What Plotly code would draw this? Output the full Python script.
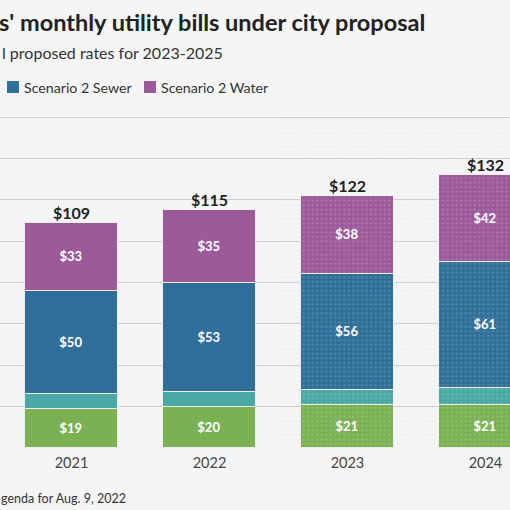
import plotly.graph_objects as go

years = ["2021", "2022", "2023", "2024"]
garbage = [19, 20, 21, 21]
storm = [7, 7, 7, 8]
sewer = [50, 53, 56, 61]
water = [33, 35, 38, 42]
totals = [g + s + w + v for g, s, w, v in zip(garbage, storm, sewer, water)]
proposed = ["2023", "2024"]

FONT = "Lato"
W, H = 510, 510
MT, MB = 113, 62
PLOT_H = H - MT - MB
YMAX = 162
XR = [-0.518, 3.178]


def px_x(p):
    return p / W


def px_y(p):
    return (H - MB - p) / PLOT_H


dots = ["" if y not in proposed else "." for y in years]

fig = go.Figure()

# dotted background behind the proposed years
fig.add_trace(go.Bar(
    x=proposed, y=[YMAX] * len(proposed), width=1,
    marker=dict(color="rgba(0,0,0,0)", line=dict(width=0),
                pattern=dict(shape=".", fgcolor="#ede3e8", size=4.5, solidity=0.2)),
    hoverinfo="skip", showlegend=False, xaxis="x", yaxis="y",
))

series = [
    ("Scenario 2 Garbage", garbage, "#7ab153", True),
    ("Scenario 2 Stormwater", storm, "#4aa9a5", False),
    ("Scenario 2 Sewer", sewer, "#2f6f99", True),
    ("Scenario 2 Water", water, "#9c5a9b", True),
]
for name, vals, col, lab in series:
    fig.add_trace(go.Bar(
        x=years, y=vals, name=name, width=0.674,
        marker=dict(color=col, line=dict(color="#eeeeee", width=1.3),
                    pattern=dict(shape=dots, fgcolor="rgba(255,255,255,0.35)",
                                 size=4.5, solidity=0.2)),
        texttemplate="$%{y}" if lab else "",
        textposition="inside", insidetextanchor="middle",
        textfont=dict(family=FONT, size=13, color="white", weight=700),
        showlegend=False, xaxis="x2", yaxis="y2",
    ))

fig.add_trace(go.Scatter(
    x=years, y=totals, mode="text", text=["$%d" % t for t in totals],
    textposition="top center", cliponaxis=False,
    textfont=dict(family=FONT, size=16, color="#222222", weight=700),
    showlegend=False, hoverinfo="skip", xaxis="x2", yaxis="y2",
))

annotations = [
    dict(text="s' monthly utility bills under city proposal", x=px_x(-3), y=px_y(22),
         font=dict(family=FONT, size=23.5, color="#222222", weight=700)),
    dict(text="l proposed rates for 2023-2025", x=px_x(0), y=px_y(53),
         font=dict(family=FONT, size=16, color="#333333")),
    dict(text="Scenario 2 Sewer", x=px_x(22), y=px_y(87),
         font=dict(family=FONT, size=14.2, color="#333333")),
    dict(text="Scenario 2 Water", x=px_x(159), y=px_y(87),
         font=dict(family=FONT, size=14.2, color="#333333")),
    dict(text="genda for Aug. 9, 2022", x=px_x(-1), y=px_y(498),
         font=dict(family=FONT, size=12.5, color="#333333")),
]
for a in annotations:
    a.update(xref="paper", yref="paper", xanchor="left", yanchor="middle",
             showarrow=False)

shapes = []
for x0, col in [(7, "#2f6f99"), (144, "#9c5a9b")]:
    shapes.append(dict(type="rect", xref="paper", yref="paper",
                       x0=px_x(x0), x1=px_x(x0 + 12), y0=px_y(93), y1=px_y(81),
                       fillcolor=col, line=dict(width=0)))

fig.update_layout(
    width=W, height=H,
    margin=dict(l=0, r=0, t=MT, b=MB),
    paper_bgcolor="#f5f5f5", plot_bgcolor="#f5f5f5",
    barmode="stack", bargap=0,
    showlegend=False,
    annotations=annotations, shapes=shapes,
    xaxis=dict(type="category", categoryorder="array", categoryarray=years,
               range=XR, showgrid=False, showticklabels=False, zeroline=False),
    yaxis=dict(range=[0, YMAX], dtick=20, gridcolor="#cccccc", gridwidth=1.2,
               showticklabels=False, zeroline=False, fixedrange=True),
    xaxis2=dict(type="category", categoryorder="array", categoryarray=years,
                overlaying="x", range=XR, showgrid=False, zeroline=False,
                tickfont=dict(family=FONT, size=14.5, color="#444444"),
                ticks="", ticklabelstandoff=4),
    yaxis2=dict(overlaying="y", range=[0, YMAX], showgrid=False,
                showticklabels=False, zeroline=False),
)

fig.write_html("out.html", config={"displayModeBar": False},
               post_script="document.body.style.margin='0';"
                           "document.body.style.overflow='hidden';")
